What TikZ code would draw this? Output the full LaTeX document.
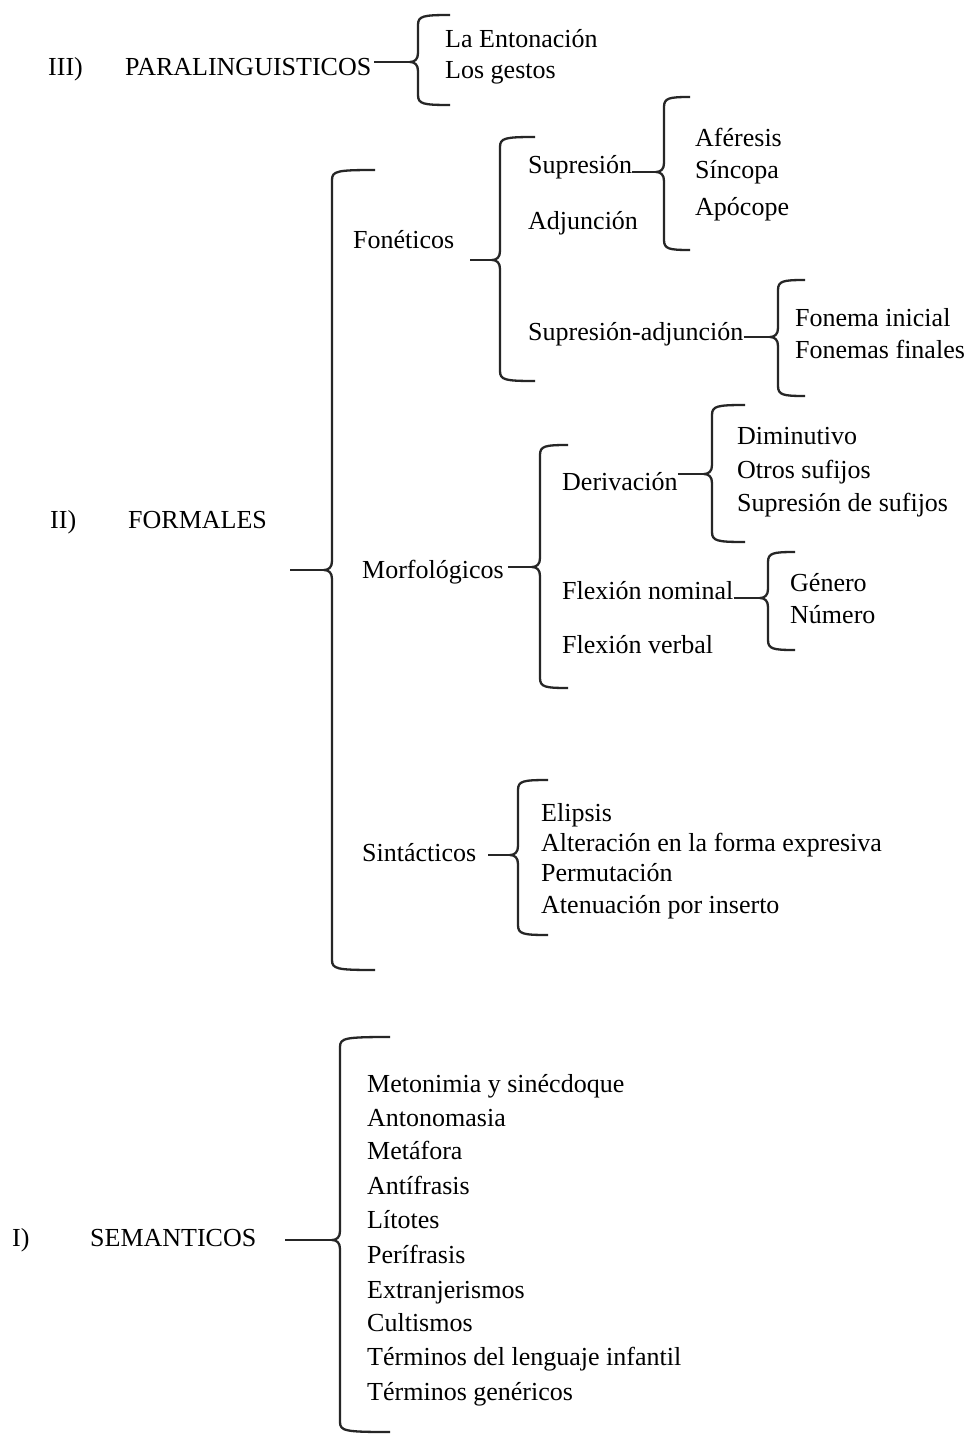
\documentclass[tikz,border=0pt]{standalone}
\usepackage{fontspec}
\setmainfont{Liberation Serif}
\newcommand\drawbrace[6]{%
  \coordinate (#1) at (#2-8,#4);
  \draw[brc] (#6,#3) .. controls (#2+5,#3) and (#2,#3+1) .. (#2,#3+10)
    -- (#2,#4-9) .. controls (#2,#4-3) and (#2-3,#4) .. (#1)
    .. controls (#2-3,#4) and (#2,#4+3) .. (#2,#4+9)
    -- (#2,#5-10) .. controls (#2,#5-1) and (#2+5,#5) .. (#6,#5);
}
\begin{document}
\begin{tikzpicture}[x=1pt,y=-1pt,
  lbl/.style={anchor=base west, inner sep=0pt, font=\fontsize{26}{30}\selectfont},
  brc/.style={line width=2.3pt, draw=black!85, line join=round},
  conn/.style={line width=2.3pt, draw=black!85}]
\useasboundingbox[fill=white] (0,0) rectangle (971,1439);

% III
\node[lbl] (n3) at (48,76) {III)};
\node[lbl] (para) at (125,76) {PARALINGUISTICOS};
\node[lbl] (ent) at (445,48) {La Entonación};
\node[lbl] (ges) at (445,79) {Los gestos};
\drawbrace{bpara}{418}{15}{62}{105}{450}
\draw[conn] ([xshift=3pt]para.east |- bpara) -- (bpara);

% II
\node[lbl] (n2) at (50,528) {II)};
\node[lbl] (form) at (128,528) {FORMALES};
\drawbrace{bform}{332}{170}{570}{970}{375}
\coordinate (fformA) at (290,570);
\draw[conn] (fformA) -- (bform);

% Foneticos
\node[lbl] (fon) at (353,248) {Fonéticos};
\drawbrace{bfon}{500}{137}{260}{381}{535}
\coordinate (ffon) at (470,260);
\draw[conn] (ffon) -- (bfon);
\node[lbl] (sup) at (528,174) {Supresión};
\node[lbl] (adj) at (528,230) {Adjunción};
\node[lbl] (supadj) at (528,340) {Supresión-adjunción};
\drawbrace{bsup}{664}{97}{172}{250}{690}
\draw[conn] (sup.east |- bsup) -- (bsup);
\node[lbl] (afe) at (695,147) {Aféresis};
\node[lbl] (sin) at (695,179) {Síncopa};
\node[lbl] (apo) at (695,216) {Apócope};
\drawbrace{bsupadj}{778}{280}{337}{396}{805}
\draw[conn] (supadj.east |- bsupadj) -- (bsupadj);
\node[lbl] (fini) at (795,326) {Fonema inicial};
\node[lbl] (ffin) at (795,358) {Fonemas finales};

% Morfologicos
\node[lbl] (mor) at (362,578) {Morfológicos};
\drawbrace{bmor}{540}{445}{567}{688}{568}
\draw[conn] ([xshift=4pt]mor.east |- bmor) -- (bmor);
\node[lbl] (der) at (562,490) {Derivación};
\drawbrace{bder}{712}{405}{474}{542}{745}
\draw[conn] (der.east |- bder) -- (bder);
\node[lbl] (dim) at (737,444) {Diminutivo};
\node[lbl] (otr) at (737,478) {Otros sufijos};
\node[lbl] (sds) at (737,511) {Supresión de sufijos};
\node[lbl] (fno) at (562,599) {Flexión nominal};
\drawbrace{bfno}{768}{552}{598}{650}{795}
\draw[conn] (fno.east |- bfno) -- (bfno);
\node[lbl] (gen) at (790,591) {Género};
\node[lbl] (num) at (790,623) {Número};
\node[lbl] (fve) at (562,653) {Flexión verbal};

% Sintacticos
\node[lbl] (sint) at (362,861) {Sintácticos};
\drawbrace{bsint}{518}{780}{855}{935}{548}
\coordinate (fsint) at (488,855);
\draw[conn] (fsint) -- (bsint);
\node[lbl] (eli) at (541,821) {Elipsis};
\node[lbl] (alt) at (541,851) {Alteración en la forma expresiva};
\node[lbl] (per) at (541,881) {Permutación};
\node[lbl] (ate) at (541,913) {Atenuación por inserto};

% I
\node[lbl] (n1) at (12,1246) {I)};
\node[lbl] (sem) at (90,1246) {SEMANTICOS};
\drawbrace{bsem}{340}{1037}{1240}{1432}{390}
\coordinate (fsem) at (285,1240);
\draw[conn] (fsem) -- (bsem);
\node[lbl] (s1) at (367,1092) {Metonimia y sinécdoque};
\node[lbl] (s2) at (367,1126) {Antonomasia};
\node[lbl] (s3) at (367,1159) {Metáfora};
\node[lbl] (s4) at (367,1194) {Antífrasis};
\node[lbl] (s5) at (367,1228) {Lítotes};
\node[lbl] (s6) at (367,1263) {Perífrasis};
\node[lbl] (s7) at (367,1298) {Extranjerismos};
\node[lbl] (s8) at (367,1331) {Cultismos};
\node[lbl] (s9) at (367,1365) {Términos del lenguaje infantil};
\node[lbl] (s10) at (367,1400) {Términos genéricos};
\end{tikzpicture}
\end{document}
